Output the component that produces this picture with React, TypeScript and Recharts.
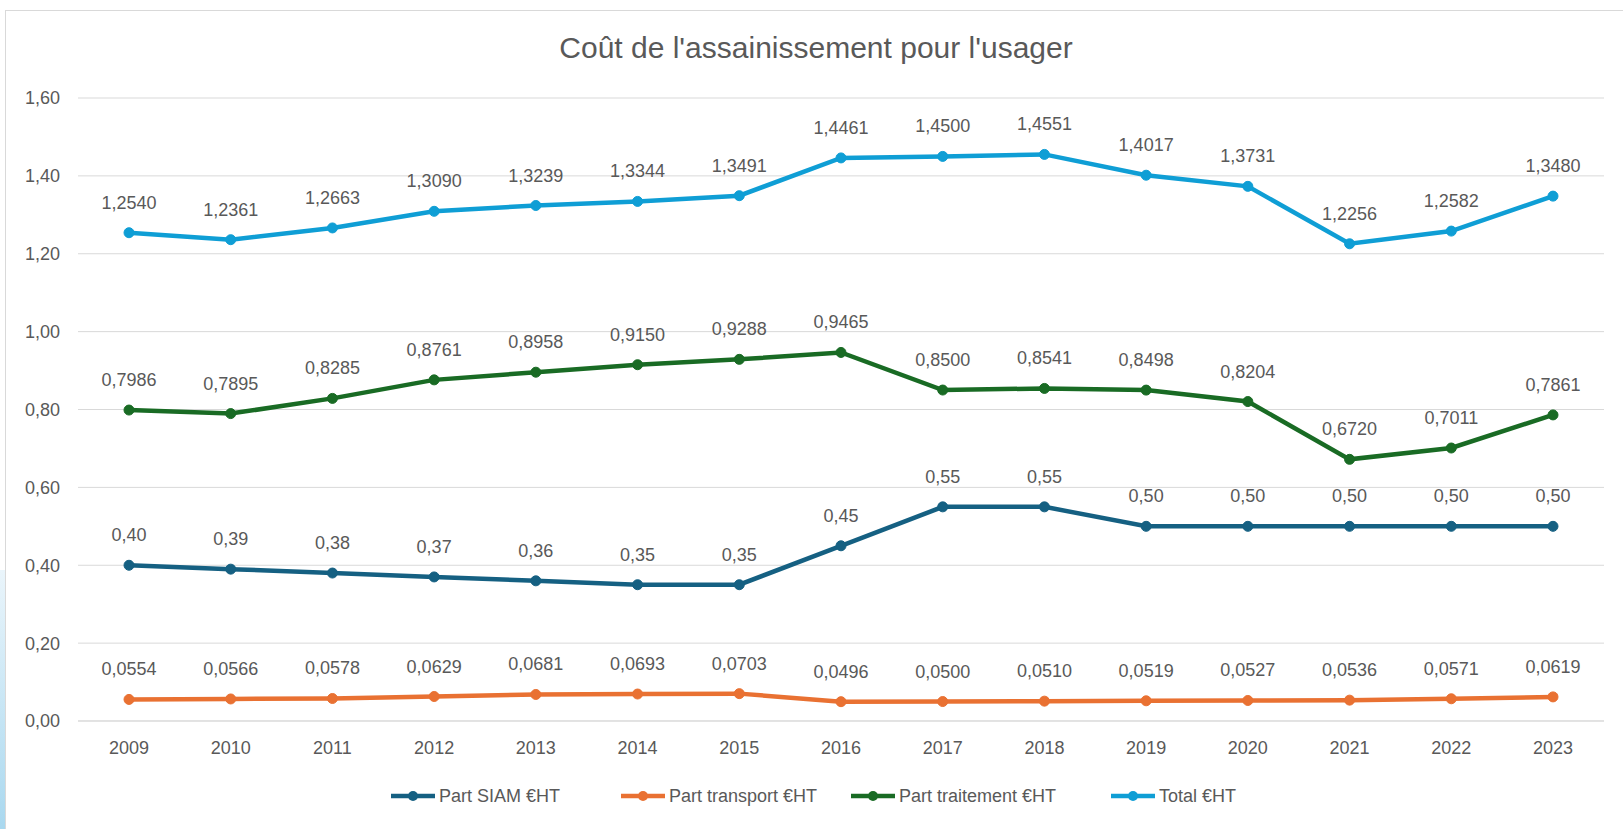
import { LineChart, Line, XAxis, YAxis, CartesianGrid, LabelList } from 'recharts';

const years = ['2009', '2010', '2011', '2012', '2013', '2014', '2015', '2016', '2017', '2018', '2019', '2020', '2021', '2022', '2023'];
const partSiam = [0.4, 0.39, 0.38, 0.37, 0.36, 0.35, 0.35, 0.45, 0.55, 0.55, 0.5, 0.5, 0.5, 0.5, 0.5];
const partTransport = [0.0554, 0.0566, 0.0578, 0.0629, 0.0681, 0.0693, 0.0703, 0.0496, 0.05, 0.051, 0.0519, 0.0527, 0.0536, 0.0571, 0.0619];
const partTraitement = [0.7986, 0.7895, 0.8285, 0.8761, 0.8958, 0.915, 0.9288, 0.9465, 0.85, 0.8541, 0.8498, 0.8204, 0.672, 0.7011, 0.7861];
const total = [1.254, 1.2361, 1.2663, 1.309, 1.3239, 1.3344, 1.3491, 1.4461, 1.45, 1.4551, 1.4017, 1.3731, 1.2256, 1.2582, 1.348];
const yTicks = [0, 0.2, 0.4, 0.6, 0.8, 1.0, 1.2, 1.4, 1.6];

const series = [
  { key: 'siam', name: 'Part SIAM €HT', color: '#156082', digits: 2, left: 391 },
  { key: 'transport', name: 'Part transport €HT', color: '#E97132', digits: 4, left: 621 },
  { key: 'traitement', name: 'Part traitement €HT', color: '#196B24', digits: 4, left: 851 },
  { key: 'total', name: 'Total €HT', color: '#0F9ED5', digits: 4, left: 1111 },
];

const data = years.map((year, i) => ({
  year,
  siam: partSiam[i],
  transport: partTransport[i],
  traitement: partTraitement[i],
  total: total[i],
}));

const FONT = "'Liberation Sans', Arial, sans-serif";
const TEXT = '#595959';

const fr = (v: number, d: number) => v.toFixed(d).replace('.', ',');

export default function App() {
  return (
    <div
      style={{
        position: 'absolute',
        left: 0,
        top: 0,
        width: 1623,
        height: 829,
        overflow: 'hidden',
        background: '#fff',
        fontFamily: FONT,
      }}
    >
      <div
        style={{
          position: 'absolute',
          left: 0,
          top: 570,
          width: 5,
          height: 259,
          background: 'linear-gradient(#eaf5fb, #a9d8ef)',
        }}
      />
      <div
        style={{
          position: 'absolute',
          left: 5,
          top: 10,
          width: 1630,
          height: 830,
          border: '1px solid #d9d9d9',
        }}
      />
      <div
        style={{
          position: 'absolute',
          left: 0,
          width: 1632,
          top: 31,
          textAlign: 'center',
          fontSize: 30,
          color: TEXT,
        }}
      >
        Coût de l'assainissement pour l'usager
      </div>
      <div style={{ position: 'absolute', left: 0, top: 0 }}>
        <LineChart
          width={1623}
          height={829}
          data={data}
          margin={{ top: 98, right: 19, left: 8, bottom: 78 }}
        >
          <CartesianGrid vertical={false} stroke="#d9d9d9" strokeWidth={1} />
          <XAxis
            dataKey="year"
            axisLine={{ stroke: '#d9d9d9' }}
            tickLine={false}
            tickMargin={14}
            height={30}
            padding={{ left: 51, right: 51 }}
            tick={{ fill: TEXT, fontSize: 18, fontFamily: FONT }}
          />
          <YAxis
            domain={[0, 1.6]}
            ticks={yTicks}
            width={70}
            axisLine={false}
            tickLine={false}
            tickMargin={12}
            tickFormatter={(v: number) => fr(v, 2)}
            tick={{ fill: TEXT, fontSize: 18, fontFamily: FONT }}
          />
          {series.map((s) => (
            <Line
              key={s.key}
              dataKey={s.key}
              name={s.name}
              stroke={s.color}
              strokeWidth={4.5}
              dot={{ r: 5, fill: s.color, stroke: s.color, strokeWidth: 1 }}
              isAnimationActive={false}
            >
              <LabelList
                dataKey={s.key}
                position="top"
                offset={24}
                formatter={(v: unknown) => fr(Number(v), s.digits)}
                style={{ fill: TEXT, fontSize: 18, fontFamily: FONT }}
              />
            </Line>
          ))}
        </LineChart>
      </div>
      {series.map((s) => (
        <div
          key={s.key}
          style={{
            position: 'absolute',
            left: s.left,
            top: 784,
            height: 24,
            display: 'flex',
            alignItems: 'center',
            gap: 4,
            whiteSpace: 'nowrap',
          }}
        >
          <svg width={44} height={12}>
            <line x1={0} y1={6} x2={44} y2={6} stroke={s.color} strokeWidth={4.5} />
            <circle cx={22} cy={6} r={5} fill={s.color} />
          </svg>
          <span
            style={{
              fontFamily: "'Liberation Sans Narrow', 'Liberation Sans', Arial, sans-serif",
              fontSize: 18,
              color: TEXT,
            }}
          >
            {s.name}
          </span>
        </div>
      ))}
    </div>
  );
}
